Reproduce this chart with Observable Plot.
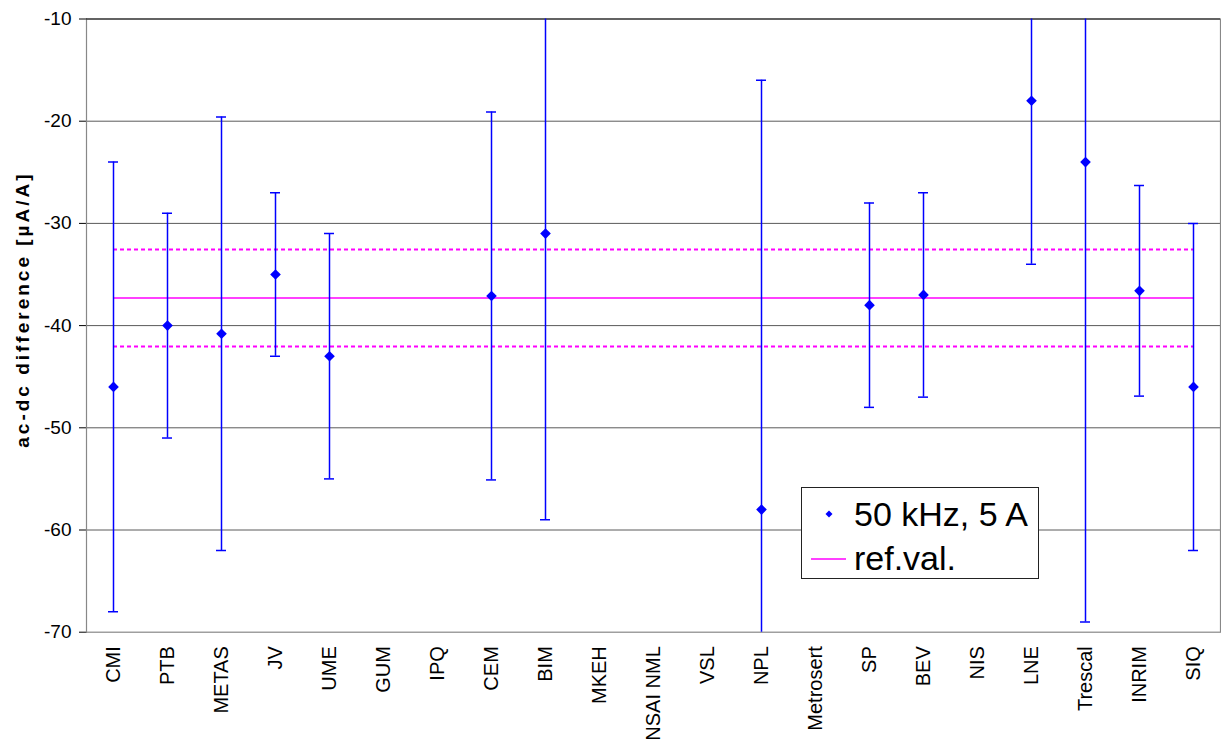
<!DOCTYPE html>
<html><head><meta charset="utf-8">
<script src="https://cdn.jsdelivr.net/npm/d3@7"></script>
<script src="https://cdn.jsdelivr.net/npm/@observablehq/plot@0.6"></script>
<style>
body{margin:0;background:#fff;font-family:Arial,"Liberation Sans",sans-serif}
#wrap{position:relative;width:1221px;height:749px}
#legend{position:absolute;left:801px;top:487px;width:236px;height:90px;border:1px solid #222;background:#fff;font-size:34px;line-height:34px;color:#000}
#legend .t{position:absolute;left:52px;white-space:nowrap}
#legend svg{position:absolute;left:0;top:0}
g[aria-label="x-axis"] text, g[aria-label="x-axis tick label"] text{font-size:20px}
g[aria-label="text"] text{letter-spacing:3px}
</style></head><body><div id="wrap"></div>
<script>
const labs = ["CMI","PTB","METAS","JV","UME","GUM","IPQ","CEM","BIM","MKEH","NSAI NML","VSL","NPL","Metrosert","SP","BEV","NIS","LNE","Trescal","INRIM","SIQ"];
const values = [-46,-40,-40.8,-35,-43,null,null,-37.1,-31,null,null,null,-58,null,-38,-37,null,-18,-24,-36.6,-46];
const uncert = [22,11,21.2,8,12,null,null,18,28,null,null,null,42,null,10,10,null,16,45,10.3,16];
const refValue = -37.3;
const refUnc = 4.75;
const yTicks = [-70,-60,-50,-40,-30,-20,-10];
const gridVals = [-60,-50,-40,-30,-20];
const seriesName = "50 kHz, 5 A";
const refName = "ref.val.";
const yTitle = "ac-dc difference [µA/A]";

const data = labs.map((lab,i)=>({lab, v: values[i], u: uncert[i]})).filter(d=>d.v!=null);
const blue = "#0000ff", mag = "#ff00ff";
const first = labs[0], last = labs[labs.length-1];

const plot = Plot.plot({
  width:1221, height:749,
  marginLeft:86, marginRight:1, marginTop:18.5, marginBottom:117.3,
  style:{fontFamily:"Arial, 'Liberation Sans', sans-serif", fontSize:"19px", background:"#fff", color:"#000"},
  x:{type:"point", domain:labs, padding:0.5, label:null, tickSize:0, tickRotate:-90, tickPadding:14},
  y:{domain:[-70,-10], ticks:yTicks, tickFormat:d=>String(d), tickSize:7, tickPadding:8, label:null, line:true},
  marks:[
    Plot.ruleY(gridVals, {stroke:"#5a5a5a", strokeWidth:1}),
    Plot.frame({stroke:"#888", strokeWidth:1.2}),
    Plot.ruleY([-10], {stroke:"#111", strokeWidth:1.2}),
    Plot.ruleY([refValue+refUnc, refValue-refUnc], {y:d=>d, x1:()=>first, x2:()=>last, stroke:mag, strokeWidth:2, strokeDasharray:"4,3"}),
    Plot.ruleY([refValue], {y:d=>d, x1:()=>first, x2:()=>last, stroke:mag, strokeWidth:1.5}),
    Plot.ruleX(data, {x:"lab", y1:d=>d.v+d.u, y2:d=>d.v-d.u, stroke:blue, strokeWidth:1.5, clip:true}),
    Plot.ruleY(data, {x1:"lab", x2:"lab", y:d=>d.v+d.u, stroke:blue, strokeWidth:1.5, insetLeft:-5, insetRight:-5, clip:true}),
    Plot.ruleY(data, {x1:"lab", x2:"lab", y:d=>d.v-d.u, stroke:blue, strokeWidth:1.5, insetLeft:-5, insetRight:-5, clip:true}),
    Plot.dot(data, {x:"lab", y:"v", symbol:"diamond2", r:4.8, fill:blue, stroke:"none"}),
    Plot.text([yTitle], {frameAnchor:"left", textAnchor:"middle", dx:-64, dy:-16, rotate:-90, fontWeight:"bold", fontSize:19})
  ]
});
const wrap = document.getElementById("wrap");
wrap.appendChild(plot);

const leg = document.createElement("div");
leg.id = "legend";
leg.innerHTML = `<svg width="236" height="90"><path d="M27,22.5L30.5,26L27,29.5L23.5,26Z" fill="${blue}"/><line x1="9" x2="44" y1="71" y2="71" stroke="${mag}" stroke-width="1.5"/></svg>
<span class="t" style="top:9px"></span><span class="t" style="top:53px"></span>`;
const ts = leg.querySelectorAll(".t");
ts[0].textContent = seriesName;
ts[1].textContent = refName;
wrap.appendChild(leg);
</script></body></html>
